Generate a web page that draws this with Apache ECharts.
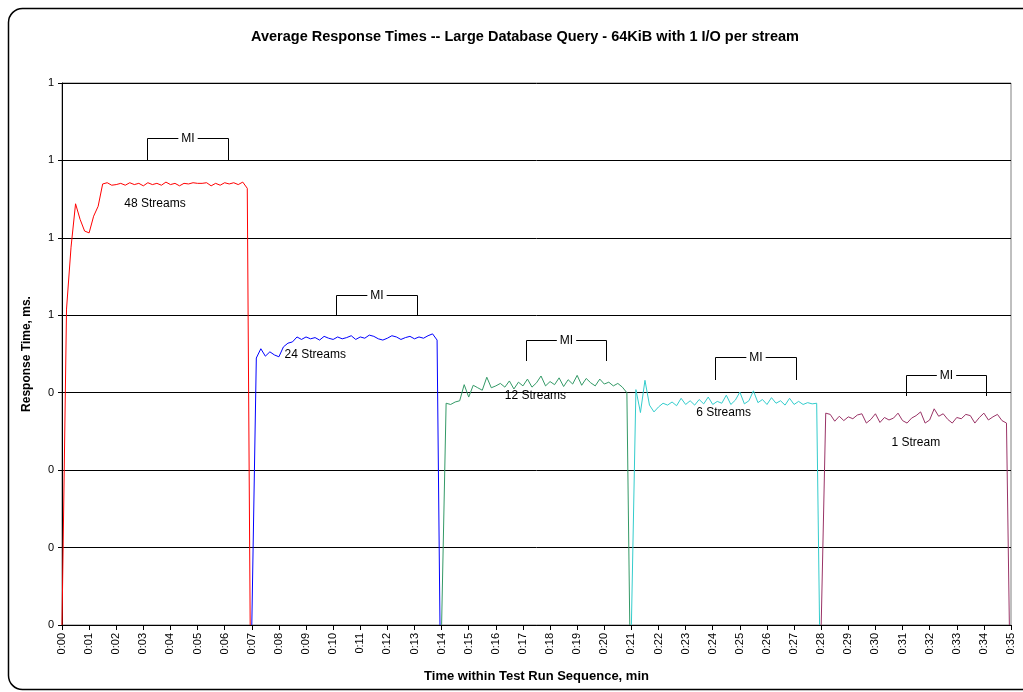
<!DOCTYPE html>
<html>
<head>
<meta charset="utf-8">
<title>Average Response Times</title>
<script src="https://cdn.jsdelivr.net/npm/echarts@6/dist/echarts.min.js"></script>
<style>
  html, body { margin: 0; padding: 0; background: #fff; }
  #main { width: 1023px; height: 692px; }
</style>
</head>
<body>
<div id="main"></div>
<script>
// samples every 10 seconds, times in minutes
var STEP = 1 / 6;
var END_OFFSET = 6.94;

var seriesNames = ['48 Streams', '24 Streams', '12 Streams', '6 Streams', '1 Stream'];
var seriesStarts = [0, 7, 14, 21, 28];
var seriesColors = ['#ff0000', '#0000ff', '#339966', '#33cccc', '#993366'];

var streams48 = [0, 0.51, 0.61, 0.68, 0.655, 0.636, 0.633, 0.66, 0.676, 0.712,
    0.714, 0.710, 0.711, 0.713, 0.710, 0.714, 0.711, 0.713, 0.709, 0.714,
    0.711, 0.713, 0.710, 0.715, 0.711, 0.713, 0.709, 0.713, 0.712, 0.714,
    0.713, 0.713, 0.714, 0.709, 0.713, 0.710, 0.714, 0.712, 0.714, 0.711,
    0.715, 0.705];
var streams24 = [0, 0.431, 0.446, 0.434, 0.441, 0.436, 0.433, 0.449, 0.455, 0.457,
    0.465, 0.461, 0.465, 0.462, 0.464, 0.460, 0.466, 0.463, 0.461, 0.465,
    0.462, 0.464, 0.467, 0.461, 0.465, 0.463, 0.468, 0.466, 0.462, 0.460,
    0.463, 0.467, 0.465, 0.461, 0.464, 0.466, 0.462, 0.465, 0.463, 0.467,
    0.470, 0.460];
var streams12 = [0, 0.358, 0.356, 0.360, 0.362, 0.388, 0.368, 0.387, 0.383, 0.379,
    0.400, 0.383, 0.386, 0.390, 0.384, 0.394, 0.381, 0.392, 0.386, 0.397,
    0.384, 0.391, 0.402, 0.386, 0.393, 0.388, 0.399, 0.385, 0.396, 0.389,
    0.403, 0.387, 0.398, 0.391, 0.386, 0.397, 0.389, 0.392, 0.386, 0.390,
    0.384, 0.375];
var streams6 = [0, 0.38, 0.343, 0.395, 0.355, 0.344, 0.352, 0.358, 0.355, 0.360,
    0.354, 0.366, 0.356, 0.362, 0.355, 0.364, 0.357, 0.368, 0.356, 0.361,
    0.358, 0.371, 0.356, 0.363, 0.376, 0.357, 0.362, 0.378, 0.359, 0.364,
    0.356, 0.367, 0.358, 0.362, 0.355, 0.366, 0.356, 0.361, 0.356, 0.359,
    0.357, 0.358];
var streams1 = [0, 0.342, 0.340, 0.329, 0.337, 0.330, 0.336, 0.333, 0.339, 0.341,
    0.326, 0.332, 0.341, 0.327, 0.335, 0.331, 0.334, 0.342, 0.330, 0.326,
    0.334, 0.338, 0.344, 0.326, 0.331, 0.349, 0.337, 0.341, 0.332, 0.326,
    0.335, 0.333, 0.340, 0.338, 0.326, 0.335, 0.342, 0.331, 0.336, 0.340,
    0.330, 0.326];
var seriesValues = [streams48, streams24, streams12, streams6, streams1];

// measurement interval brackets: [from min, to min, bracket top, base level]
var miStart = [3.14, 10.11, 17.13, 24.1, 31.12];
var miEnd = [6.13, 13.1, 20.08, 27.06, 34.07];
var miTop = [0.786, 0.533, 0.46, 0.433, 0.404];
var miBase = [0.75, 0.5, 0.426, 0.396, 0.37];

// text labels inside the plot
var labelX = [3.43, 9.34, 17.46, 24.4, 31.49];
var labelY = [0.680, 0.436, 0.370, 0.342, 0.295];

var FONT = 'Arial, "Liberation Sans", sans-serif';

var myChart = echarts.init(document.getElementById('main'), null, {renderer: 'canvas'});

function buildLine(idx) {
    var start = seriesStarts[idx];
    var vals = seriesValues[idx];
    var pts = [];
    for (var i = 0; i < vals.length; i++) {
        pts.push([start + i * STEP, vals[i]]);
    }
    pts.push([start + END_OFFSET, 0]);
    return pts;
}

function pad2(n) {
    return n < 10 ? '0' + n : '' + n;
}

var series = [];
for (var s = 0; s < seriesNames.length; s++) {
    series.push({
        name: seriesNames[s],
        type: 'line',
        data: buildLine(s),
        showSymbol: false,
        symbol: 'none',
        animation: false,
        lineStyle: {color: seriesColors[s], width: 1},
        itemStyle: {color: seriesColors[s]},
        z: 3
    });
}

var miData = [];
for (var m = 0; m < miStart.length; m++) {
    miData.push([miStart[m], miEnd[m], miTop[m], miBase[m]]);
}
series.push({
    type: 'custom',
    name: 'MI',
    data: miData,
    animation: false,
    silent: true,
    z: 5,
    encode: {x: [0, 1], y: [2, 3]},
    renderItem: function (params, api) {
        var p1 = api.coord([api.value(0), api.value(2)]);
        var p2 = api.coord([api.value(1), api.value(2)]);
        var b1 = api.coord([api.value(0), api.value(3)]);
        var x1 = Math.round(p1[0]) + 0.5, x2 = Math.round(p2[0]) + 0.5;
        var yt = Math.round(p1[1]) + 0.5, yb = Math.round(b1[1]);
        return {
            type: 'group',
            children: [{
                type: 'polyline',
                shape: {points: [[x1, yb], [x1, yt], [x2, yt], [x2, yb]]},
                style: {stroke: '#000', lineWidth: 1, fill: null}
            }, {
                type: 'text',
                x: (x1 + x2) / 2,
                y: yt,
                style: {
                    text: 'MI',
                    fontSize: 12,
                    fontFamily: FONT,
                    fill: '#000',
                    align: 'center',
                    verticalAlign: 'middle',
                    backgroundColor: '#fff',
                    padding: [1, 3]
                }
            }]
        };
    }
});

var labelData = [];
for (var l = 0; l < labelX.length; l++) {
    labelData.push([labelX[l], labelY[l], seriesNames[l]]);
}
series.push({
    type: 'custom',
    name: 'labels',
    data: labelData,
    animation: false,
    silent: true,
    z: 6,
    renderItem: function (params, api) {
        var p = api.coord([api.value(0), api.value(1)]);
        return {
            type: 'text',
            x: p[0],
            y: p[1],
            style: {
                text: labelData[params.dataIndex][2],
                fontSize: 12,
                fontFamily: FONT,
                fill: '#000',
                align: 'center',
                verticalAlign: 'middle'
            }
        };
    }
});

var option = {
    backgroundColor: '#fff',
    animation: false,
    title: {
        text: 'Average Response Times -- Large Database Query - 64KiB with 1 I/O per stream',
        left: 520,
        textAlign: 'center',
        top: 24,
        textStyle: {fontSize: 14.5, fontWeight: 'bold', fontFamily: FONT, color: '#000'}
    },
    graphic: [{
        type: 'rect',
        shape: {x: 8.5, y: 8.5, width: 1030, height: 681, r: 14},
        style: {fill: null, stroke: '#000', lineWidth: 1.5},
        silent: true,
        z: -1
    }],
    grid: {
        left: 62,
        right: 12,
        top: 83,
        bottom: 67,
        show: true,
        borderColor: '#808080',
        borderWidth: 1,
        backgroundColor: 'transparent'
    },
    xAxis: {
        type: 'value',
        min: 0,
        max: 35,
        interval: 1,
        name: 'Time within Test Run Sequence, min',
        nameLocation: 'middle',
        nameGap: 45,
        nameTextStyle: {fontSize: 13, fontWeight: 'bold', fontFamily: FONT, color: '#000'},
        axisLine: {lineStyle: {color: '#000', width: 1}},
        axisTick: {show: true, length: 5, lineStyle: {color: '#000'}},
        splitLine: {show: false},
        axisLabel: {
            rotate: 90,
            fontSize: 11,
            fontFamily: FONT,
            color: '#000',
            margin: 8,
            formatter: function (v) { return '0:' + pad2(Math.round(v)); }
        }
    },
    yAxis: {
        type: 'value',
        min: 0,
        max: 0.875,
        interval: 0.125,
        name: 'Response Time, ms.',
        nameLocation: 'middle',
        nameGap: 29,
        nameTextStyle: {fontSize: 12, fontWeight: 'bold', fontFamily: FONT, color: '#000'},
        axisLine: {show: true, lineStyle: {color: '#000', width: 1}},
        axisTick: {show: true, length: 4, lineStyle: {color: '#000'}},
        splitLine: {show: true, lineStyle: {color: '#000', width: 1}},
        axisLabel: {
            fontSize: 11,
            fontFamily: FONT,
            color: '#000',
            margin: 8,
            formatter: function (v) { return '' + Math.round(v); }
        }
    },
    series: series
};
myChart.setOption(option);
</script>
</body>
</html>
